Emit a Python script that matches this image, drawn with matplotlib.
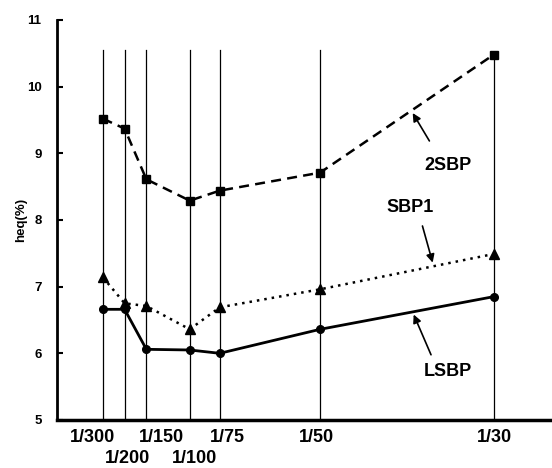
import matplotlib.pyplot as plt
from matplotlib.transforms import offset_copy

plt.rcParams['font.family'] = ['Liberation Sans', 'DejaVu Sans']
plt.rcParams['font.weight'] = 'bold'

# drift ratio labels and their positions along the axis
drift_labels = ['1/300', '1/200', '1/150', '1/100', '1/75', '1/50', '1/30']
drift_pos = [0.333, 0.5, 0.667, 1.0, 1.23, 2.0, 3.333]

heq_2sbp = [9.52, 9.37, 8.61, 8.29, 8.44, 8.71, 10.48]
heq_sbp1 = [7.14, 6.75, 6.71, 6.36, 6.69, 6.96, 7.49]
heq_lsbp = [6.66, 6.66, 6.06, 6.05, 6.00, 6.36, 6.85]

fig = plt.figure(figsize=(5.52, 4.68), dpi=100)
ax = fig.add_axes([0.103, 0.1026, 0.897, 0.8547])

# thin vertical guide lines
for i, x in enumerate(drift_pos):
    top = 10.55 if i < len(drift_pos) - 1 else heq_2sbp[-1]
    ax.plot([x, x], [5, top], color='black', lw=0.9, zorder=1)

ax.plot(drift_pos, heq_2sbp, color='black', lw=1.8, ls=(0, (4, 2.5)),
        marker='s', ms=6, zorder=3)
ax.plot(drift_pos, heq_sbp1, color='black', lw=1.8, ls=(0, (1, 2)),
        marker='^', ms=7, zorder=3)
ax.plot(drift_pos, heq_lsbp, color='black', lw=2.0, ls='-',
        marker='o', ms=5.5, zorder=3)

arrow = dict(arrowstyle='-|>', color='black', lw=1.2, mutation_scale=12)
ax.text(2.98, 8.82, '2SBP', ha='center', va='center', fontsize=13, fontweight='bold')
ax.annotate('', xy=(2.70, 9.64), xytext=(2.85, 9.15), arrowprops=arrow)
ax.text(2.69, 8.19, 'SBP1', ha='center', va='center', fontsize=13, fontweight='bold')
ax.annotate('', xy=(2.87, 7.32), xytext=(2.78, 7.95), arrowprops=arrow)
ax.text(2.98, 5.72, 'LSBP', ha='center', va='center', fontsize=13, fontweight='bold')
ax.annotate('', xy=(2.71, 6.62), xytext=(2.86, 5.94), arrowprops=arrow)

ax.set_xlim(-0.02, 3.78)
ax.set_ylim(5, 11)
ax.set_yticks(range(5, 12))
ax.tick_params(axis='y', direction='in', length=4, width=1.5, labelsize=9.5, pad=11)
ax.set_xticks(drift_pos)
ax.set_xticklabels([])
ax.tick_params(axis='x', length=0)
label_shift = [-10, 3, 15, 5, 8, -4, 1]
for i, (x, lab) in enumerate(zip(drift_pos, drift_labels)):
    y = 4.74 if i not in (1, 3) else 4.42
    tr = offset_copy(ax.transData, fig=fig, x=label_shift[i], y=0, units='dots')
    ax.text(x, y, lab, ha='center', va='center', fontsize=13,
            fontweight='bold', transform=tr)

ax.set_ylabel('heq(%)', fontsize=9.5, fontweight='bold', labelpad=0)
ax.spines['top'].set_visible(False)
ax.spines['right'].set_visible(False)
ax.spines['left'].set_linewidth(2)
ax.spines['bottom'].set_linewidth(2.5)

fig.savefig('out.png', dpi=100)
